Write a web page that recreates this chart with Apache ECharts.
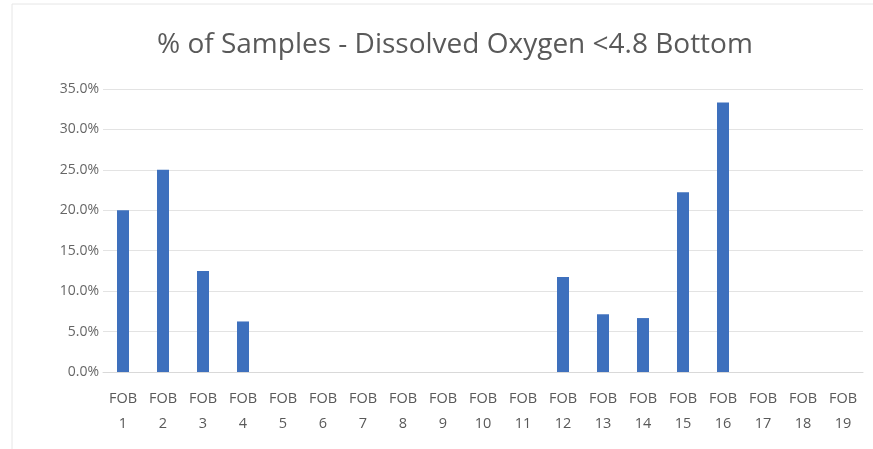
<!DOCTYPE html>
<html><head><meta charset="utf-8">
<script src="https://cdn.jsdelivr.net/npm/echarts@6/dist/echarts.min.js"></script>
<style>html,body{margin:0;padding:0;background:#fff}#c{width:873px;height:449px}</style>
</head><body><div id="c"></div>
<script>
const titleText = '% of Samples - Dissolved Oxygen <4.8 Bottom';
const categories = ['FOB\n1','FOB\n2','FOB\n3','FOB\n4','FOB\n5','FOB\n6','FOB\n7','FOB\n8','FOB\n9','FOB\n10','FOB\n11','FOB\n12','FOB\n13','FOB\n14','FOB\n15','FOB\n16','FOB\n17','FOB\n18','FOB\n19'];
const values = [20.0, 25.0, 12.5, 6.25, 0, 0, 0, 0, 0, 0, 0, 11.76, 7.14, 6.67, 22.22, 33.33, 0, 0, 0];
const yTicks = [0, 5, 10, 15, 20, 25, 30, 35];

const chart = echarts.init(document.getElementById('c'));
chart.setOption({
  animation: false,
  backgroundColor: '#ffffff',
  title: {
    text: titleText, left: 152, top: 26,
    textStyle: { fontFamily: 'Open Sans', fontWeight: 'normal', fontSize: 28, color: '#595959' }
  },
  grid: { left: 103, right: 10, top: 89, bottom: 77 },
  xAxis: {
    type: 'category', data: categories,
    axisLine: { lineStyle: { color: '#d9d9d9' } },
    axisTick: { show: false },
    axisLabel: { interval: 0, color: '#595959', fontFamily: 'Open Sans', fontSize: 14.5, lineHeight: 25, margin: 14 }
  },
  yAxis: {
    type: 'value', min: yTicks[0], max: yTicks[yTicks.length - 1], interval: 5,
    axisLine: { show: false }, axisTick: { show: false },
    splitLine: { lineStyle: { color: '#e3e3e3' } },
    axisLabel: { color: '#666666', fontFamily: 'Open Sans', fontSize: 14, margin: 4, formatter: v => v.toFixed(1) + '%' }
  },
  series: [{
    type: 'bar', data: values, barWidth: '30%',
    itemStyle: { color: '#3e70bd' }
  }],
  graphic: [{ type: 'rect', shape: { x: 12, y: 4, width: 900, height: 500 }, style: { fill: 'none', stroke: '#e6e6e6', lineWidth: 1 }, silent: true }]
});
</script></body></html>
